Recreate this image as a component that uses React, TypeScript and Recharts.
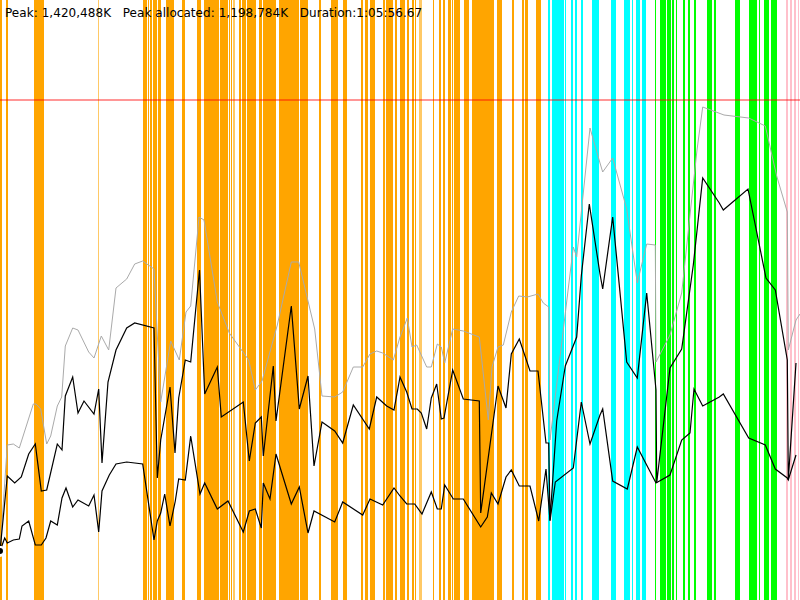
import React from "react";
import { LineChart, Line, XAxis, YAxis, ReferenceArea, ReferenceLine } from "recharts";

// x: time position (0..800), v: memory level (0..600 scale, peak = 500)
const peakLevel = 500;
const headerText = "Peak: 1,420,488K   Peak allocated: 1,198,784K   Duration:1:05:56.67";

const orangeBands: [number, number][] = [
  [0, 2], [6, 8], [34, 44], [143, 147], [148, 149], [150, 152], [153, 157], [158, 161], [166, 174],
  [182, 185], [197, 201], [204, 219], [220, 228], [229, 230], [231, 232], [239, 241], [242, 246],
  [247, 256], [259, 262], [263, 276], [279, 299], [300, 308], [319, 321], [331, 338], [343, 347],
  [361, 363], [365, 368], [370, 375], [383, 385], [386, 393], [395, 397], [400, 405], [407, 409],
  [412, 414], [415, 416], [433, 434], [439, 441], [443, 445], [448, 451], [452, 453], [454, 460],
  [464, 469], [472, 494], [497, 502], [512, 514], [522, 524], [525, 528], [536, 541],
];
const lightOrangeBands: [number, number][] = [[98, 99], [233, 235], [419, 422]];
const cyanBands: [number, number][] = [
  [548, 550], [552, 564], [565, 566], [571, 573], [575, 577], [581, 583], [592, 599],
  [611, 616], [624, 630], [632, 633], [636, 640], [642, 646],
];
const greenBands: [number, number][] = [
  [655, 656], [660, 666], [667, 671], [672, 674], [676, 677], [683, 685], [688, 690], [694, 696],
  [707, 712], [714, 716], [735, 740], [749, 757], [759, 760], [764, 769], [771, 777],
];
const pinkBands: [number, number][] = [[786, 788], [790, 792], [794, 796], [798, 799]];

const grayLine: [number, number][] = [
  [0, 48], [7.3, 155], [13.3, 156], [19.3, 152], [33.3, 196], [36, 196], [40.7, 191], [46.7, 156],
  [50.7, 164], [57.3, 194], [61.7, 203], [65.3, 254], [72.7, 272], [78, 270], [88.7, 248], [94, 242],
  [101.3, 264], [108.7, 250], [116, 312], [126.7, 321], [134.7, 336], [142.7, 339], [154, 331],
  [160.7, 198], [170.7, 259], [179.3, 240], [186, 288], [190.7, 294], [199, 383], [204, 380],
  [217.3, 298], [229.3, 267], [248.7, 240], [255.3, 210], [262, 219], [277.3, 275], [291.3, 338],
  [298.7, 338], [314.7, 271], [322, 204], [334.7, 203], [342.7, 208], [353.3, 233], [362.7, 233],
  [370, 246], [376.7, 249], [382.7, 247], [393.3, 240], [400, 263], [407.3, 282], [412, 253],
  [416.7, 255], [426.7, 233], [431.3, 233], [437.3, 256], [441.3, 253], [444.7, 237], [452.7, 271],
  [463.3, 269], [479.3, 263], [488.3, 180], [492, 233], [498, 253], [503.3, 255], [511.3, 288],
  [518.7, 304], [527.3, 303], [538, 306], [543.3, 297], [548.7, 293], [550, 160], [573.3, 353],
  [576.7, 343], [590, 472], [600, 437], [602.7, 428], [612.7, 442], [626.7, 391], [637.3, 317],
  [646.7, 356], [655.3, 355], [656, 238], [670, 265], [681.7, 307], [690, 385], [697, 450],
  [702.7, 493], [724, 485], [748.7, 482], [765.3, 474], [776.7, 424], [787.3, 388], [788.3, 250],
  [796, 280], [800, 286],
];

const upperLine: [number, number][] = [
  [0, 49], [7.3, 124], [14.7, 117], [21.3, 123], [28.7, 146], [35.3, 156], [41.3, 109], [46.7, 110],
  [57.3, 156], [62, 150], [65.3, 204], [72.7, 223], [78, 187], [84, 199], [94, 186], [98.7, 211],
  [102, 137], [108, 218], [116, 250], [126.7, 272], [134.7, 277], [154, 272], [157.3, 122],
  [160.7, 160], [170, 213], [175, 147], [178.7, 202], [185.3, 240], [190.7, 238], [199.5, 330],
  [204.7, 206], [217.3, 233], [221.3, 183], [243.3, 198], [249.3, 139], [255.3, 177], [261.3, 183],
  [263.3, 144], [273.3, 234], [276, 179], [291.3, 294], [299.3, 191], [308, 224], [314, 134],
  [322, 178], [334.7, 169], [342.7, 157], [353.3, 195], [369.3, 171], [376.7, 203], [386.7, 194],
  [394, 190], [400, 223], [406.7, 208], [412, 191], [417.3, 191], [421.3, 187], [426.7, 171],
  [431.3, 202], [436.7, 216], [441.3, 181], [444, 182], [452.7, 230], [463.3, 201], [479.3, 199],
  [480.7, 87], [498, 214], [506, 192], [511.3, 246], [519.3, 261], [530, 229], [538, 229],
  [546, 157], [548.7, 157], [550, 80], [556.7, 179], [565.3, 234], [576.7, 263],
  [581.3, 324], [589.3, 396], [600, 326], [602.7, 311], [612.7, 383], [626.7, 238], [637.3, 222],
  [646.7, 307], [656, 210], [656.7, 117], [670, 232], [681.7, 251], [693.3, 335],
  [702.7, 422], [719.3, 397], [723.3, 390], [748, 411], [766, 322], [775.3, 310], [787.3, 240],
  [788.3, 120], [796, 237],
];

const lowerLine: [number, number][] = [
  [0, 49], [4.7, 62], [7.3, 57], [13.3, 60], [19.3, 61], [22, 74], [28.7, 79], [35.3, 55], [41.3, 55],
  [46, 62], [50.7, 79], [57.3, 75], [62, 102], [66, 112], [72.7, 93], [78, 100], [88.7, 94], [94, 105],
  [98.7, 68], [102, 109], [109.3, 125], [116, 136], [126.7, 138], [142.7, 136], [154, 60],
  [157.3, 79], [160.7, 87], [164.7, 106], [170, 74], [175.3, 99], [178.7, 121], [185.3, 120],
  [190.7, 164], [200, 106], [204.7, 117], [217.3, 91], [228, 99], [243.3, 68], [249.3, 89],
  [255.3, 91], [261.3, 72], [263.3, 117], [270, 101], [276, 146], [291.3, 96], [299.3, 113],
  [308, 67], [314, 89], [334.7, 78], [342.7, 98], [362.7, 85], [370, 101], [382.7, 95], [394, 112],
  [400, 104], [406.7, 96], [414.7, 96], [422, 86], [431.3, 108], [437.3, 91], [441.3, 91],
  [444.7, 115], [453.3, 101], [463.3, 101], [480.7, 73], [487.3, 83], [491.3, 107], [498, 96],
  [506, 123], [511.3, 130], [519.3, 114], [530, 114], [538.7, 79], [546, 131], [550, 79],
  [555.3, 118], [573.3, 132], [581.3, 198], [590, 156], [600, 185], [602.7, 191], [612.7, 119],
  [627.3, 111], [637.3, 153], [656, 117], [670, 125], [681.7, 160], [690, 167], [694, 211],
  [702.7, 194], [719.3, 203], [723.3, 206], [748.7, 162], [765.3, 155], [775.3, 131], [787.3, 122],
  [788.3, 120], [796, 145],
];

const toRows = (pts: [number, number][]) => pts.map(([t, v]) => ({ t, v }));

const bandSets: { bands: [number, number][]; color: string }[] = [
  { bands: orangeBands, color: "#ffa500" },
  { bands: lightOrangeBands, color: "#ffc966" },
  { bands: cyanBands, color: "#00ffff" },
  { bands: greenBands, color: "#00ff00" },
  { bands: pinkBands, color: "#ffc0cb" },
];

export default function App() {
  return (
    <div style={{ position: "absolute", left: 0, top: 0, width: 800, height: 600, background: "#fff" }}>
      <LineChart width={800} height={600} margin={{ top: 0, right: 0, bottom: 0, left: 0 }}>
        <XAxis type="number" dataKey="t" domain={[0, 800]} hide allowDataOverflow />
        <YAxis type="number" domain={[0, 600]} hide allowDataOverflow />
        {bandSets.flatMap((s, si) =>
          s.bands.map(([a, b], i) => (
            <ReferenceArea
              key={`b${si}-${i}`}
              x1={a}
              x2={b}
              fill={s.color}
              fillOpacity={1}
              stroke="none"
              ifOverflow="visible"
            />
          ))
        )}
        <ReferenceLine y={peakLevel} stroke="#ff0000" strokeOpacity={0.55} strokeWidth={1.5} />
        <Line data={toRows(grayLine)} dataKey="v" type="linear" stroke="#aaaaaa" strokeWidth={1} dot={false} isAnimationActive={false} />
        <Line data={toRows(upperLine)} dataKey="v" type="linear" stroke="#000000" strokeWidth={1.2} dot={false} isAnimationActive={false} />
        <Line data={toRows(lowerLine)} dataKey="v" type="linear" stroke="#000000" strokeWidth={1.2} dot={false} isAnimationActive={false} />
      </LineChart>
      <svg width={800} height={30} style={{ position: "absolute", left: 0, top: 0, pointerEvents: "none" }}>
        <text x={5} y={17} fontFamily="DejaVu Sans, sans-serif" fontSize={12} letterSpacing={0.05} fill="#000" style={{ whiteSpace: "pre" }}>
          {headerText}
        </text>
      </svg>
    </div>
  );
}
